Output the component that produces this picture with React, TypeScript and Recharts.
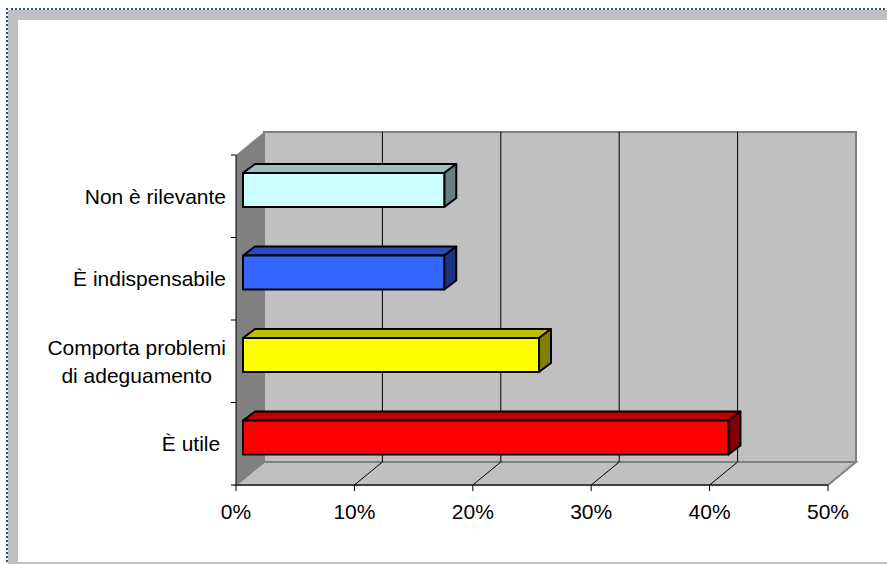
import { BarChart, Bar, XAxis, YAxis, CartesianGrid, ReferenceArea } from "recharts";

const CATEGORIES = [
  "Non è rilevante",
  "È indispensabile",
  "Comporta problemi\ndi adeguamento",
  "È utile ",
];
const VALUES = [17, 17, 25, 41];
const X_TICKS = [0, 10, 20, 30, 40, 50];

// front / top / side shades of each box
const FRONT = ["#CCFFFF", "#3366FF", "#FFFF00", "#FF0000"];
const TOP = ["#99BFBF", "#264CBF", "#BFBF00", "#BF0000"];
const SIDE = ["#668080", "#1A3380", "#808000", "#800000"];

const data = CATEGORIES.map((label, i) => ({ label, value: VALUES[i] }));

const FONT = '"Liberation Sans", Arial, sans-serif';
const FONT_SIZE = 21;
const LINE_HEIGHT = 28;
const Y_TICK_SIZE = 5;
const Y_TICK_MARGIN = 5;

// back wall sits this far behind the front plane
const DEPTH_X = 28;
const DEPTH_Y = -23;
// boxes start a quarter of the way in and have their own depth
const BAR_SHIFT_X = 7;
const BAR_SHIFT_Y = -6;
const BAR_DX = 12;
const BAR_DY = -9;

let measureCtx: CanvasRenderingContext2D | null = null;
function textWidth(s: string) {
  if (!measureCtx) measureCtx = document.createElement("canvas").getContext("2d");
  if (!measureCtx) return s.length * FONT_SIZE * 0.5;
  measureCtx.font = `${FONT_SIZE}px ${FONT}`;
  return measureCtx.measureText(s).width;
}

function Walls(props: any) {
  const { x, y, width, height } = props;
  const bx = x + DEPTH_X;
  const by = y + DEPTH_Y;
  const bottom = y + height;
  return (
    <g>
      <rect x={bx} y={by} width={width} height={height} fill="#C0C0C0" stroke="#808080" strokeWidth={2} />
      <polygon
        points={`${x},${bottom} ${x + width},${bottom} ${bx + width},${by + height} ${bx},${by + height}`}
        fill="#C0C0C0"
        stroke="#808080"
        strokeWidth={2}
      />
      <polygon points={`${x},${y} ${bx},${by} ${bx},${by + height} ${x},${bottom}`} fill="#808080" />
    </g>
  );
}

// each vertical grid line goes up the back wall and across the floor
function gridLine(props: any) {
  const { x1, y1, y2, x, width, index } = props;
  if (x1 <= x + 1 || x1 >= x + width - 1) return <g key={`grid-${index}`} />;
  return (
    <g key={`grid-${index}`}>
      <line x1={x1 + DEPTH_X} y1={y1 + DEPTH_Y} x2={x1 + DEPTH_X} y2={y2 + DEPTH_Y} stroke="#000" strokeWidth={1} />
      <line x1={x1} y1={y2} x2={x1 + DEPTH_X} y2={y2 + DEPTH_Y} stroke="#000" strokeWidth={1} />
    </g>
  );
}

function Box(props: any) {
  const { x, y, width, height, index } = props;
  if (!width || width <= 0) return null;
  const fx = x + BAR_SHIFT_X;
  const fy = y + BAR_SHIFT_Y;
  const r = fx + width;
  const b = fy + height;
  return (
    <g stroke="#000" strokeWidth={2} strokeLinejoin="round">
      <polygon
        points={`${fx},${fy} ${r},${fy} ${r + BAR_DX},${fy + BAR_DY} ${fx + BAR_DX},${fy + BAR_DY}`}
        fill={TOP[index]}
      />
      <polygon
        points={`${r},${fy} ${r + BAR_DX},${fy + BAR_DY} ${r + BAR_DX},${b + BAR_DY} ${r},${b}`}
        fill={SIDE[index]}
      />
      <rect x={fx} y={fy} width={width} height={height} fill={FRONT[index]} />
    </g>
  );
}

// category labels: centred text block, ticks on the band boundaries
function CategoryTick(props: any) {
  const { x, y, payload, index, visibleTicksCount } = props;
  const half = payload && payload.offset ? payload.offset : 41;
  const axisX = x + Y_TICK_SIZE + Y_TICK_MARGIN;
  const lines = String(payload.value).split("\n");
  const widths = lines.map(textWidth);
  const blockW = Math.max(...widths);
  const cx = x - blockW / 2;
  const top = y - ((lines.length - 1) * LINE_HEIGHT) / 2;
  return (
    <g>
      <line x1={axisX - Y_TICK_SIZE} y1={y - half} x2={axisX} y2={y - half} stroke="#000" />
      {index === visibleTicksCount - 1 && (
        <line x1={axisX - Y_TICK_SIZE} y1={y + half} x2={axisX} y2={y + half} stroke="#000" />
      )}
      <text fontFamily={FONT} fontSize={FONT_SIZE} fill="#000">
        {lines.map((l, i) => (
          <tspan key={i} x={cx - widths[i] / 2} y={top + i * LINE_HEIGHT} dy="0.35em">
            {l}
          </tspan>
        ))}
      </text>
    </g>
  );
}

export default function App() {
  return (
    <div
      style={{
        position: "absolute",
        left: 0,
        top: 0,
        width: 887,
        height: 564,
        background: "#fff",
        overflow: "hidden",
      }}
    >
      <div
        style={{
          position: "absolute",
          left: 6,
          top: 8,
          right: -10,
          bottom: -10,
          borderTop: "2px dotted #1F4E9E",
          borderLeft: "2px dotted #1F4E9E",
        }}
      />
      <div style={{ position: "absolute", left: 8, top: 10, right: 0, height: 10, background: "#C0C0C0" }} />
      <div style={{ position: "absolute", left: 8, top: 10, width: 10, bottom: 0, background: "#C0C0C0" }} />
      <div style={{ position: "absolute", left: 8, bottom: 0, right: 0, height: 2, background: "#C0C0C0" }} />
      <div style={{ position: "absolute", left: 0, top: 0 }}>
        <BarChart
          width={887}
          height={564}
          data={data}
          layout="vertical"
          margin={{ top: 155, right: 59, bottom: 0, left: 0 }}
        >
          <ReferenceArea x1={0} x2={50} ifOverflow="visible" shape={Walls} zIndex={-200} />
          <CartesianGrid horizontal={false} vertical={gridLine} zIndex={-100} />
          <XAxis
            type="number"
            domain={[0, 50]}
            ticks={X_TICKS}
            interval={0}
            tickFormatter={(v: number) => `${v}%`}
            height={79}
            tickSize={6}
            tickMargin={13}
            axisLine={{ stroke: "#000", strokeWidth: 1 }}
            tickLine={{ stroke: "#000" }}
            tick={{ fill: "#000", fontSize: FONT_SIZE, fontFamily: FONT }}
          />
          <YAxis
            type="category"
            dataKey="label"
            width={236}
            interval={0}
            tickSize={Y_TICK_SIZE}
            tickMargin={Y_TICK_MARGIN}
            tickLine={false}
            axisLine={{ stroke: "#000", strokeWidth: 1 }}
            tick={<CategoryTick />}
          />
          <Bar dataKey="value" barSize={34} isAnimationActive={false} shape={<Box />} />
        </BarChart>
      </div>
    </div>
  );
}
